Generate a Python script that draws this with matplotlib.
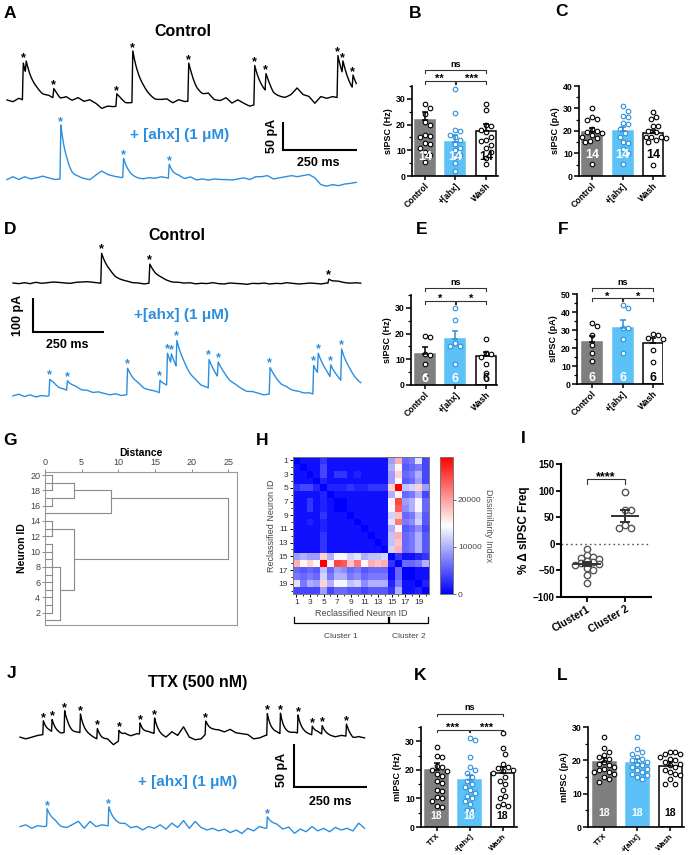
import numpy as np
import matplotlib
matplotlib.use("Agg")
import matplotlib.pyplot as plt
import matplotlib.transforms as mtransforms
from matplotlib.ticker import MultipleLocator

plt.rcParams['font.family'] = ['Liberation Sans', 'DejaVu Sans']
plt.rcParams['font.weight'] = 'bold'
plt.rcParams['axes.labelweight'] = 'bold'

W, H = 688, 855
GREY = '#7f7f7f'
BLUE_BAR = '#5cc1f7'
BLUE = '#2e8fdc'
TRACE_BLUE = '#2b8fe0'

# ---------------- traces: event times (ms), amplitudes (pA), baseline (pA, every 20 ms)
a_ctl_t = [52, 62, 155, 368, 422, 611, 834, 872, 1115, 1132, 1166]
a_ctl_amp = [66, 23, 17, 22, 92, 68, 70, 31, 75, 24, 24]
a_ctl_base = [0, -3, 3, -1, 0, 2, 0, 3, 0, -6, 1, -3, 3, -3, 0, -6, -15, -11, -12, -10,
              -13, -9, -5, -2, -4, -6, -3, 0, -6, 0, -3, -2, -5, -3, 5, -3, -3, 3, -6, 0,
              -6, -11, -8, -5, -3, -8, -4, -1, 7, 20, 9, 6, -6, 6, 3, 6, 4, 3, 0, -2]
a_ahx_t = [179, 391, 545]
a_ahx_amp = [96, 34, 25]
a_ahx_base = [-1, 4, -1, 4, 0, 2, 5, 2, -1, 0, 3, -2, 0, -1, -2, 7, 14, 8, 5, 3,
              2, 0, -1, -1, 2, 1, 4, 2, 0, 2, -1, 3, -2, 0, -2, 0, -1, -1, -2, 0,
              2, -1, 4, 4, 6, 0, 2, 4, 6, 4, 6, 8, 2, -10, -13, -10, -12, -9, -8, -6]

d_ctl_t = [308, 477, 1105]
d_ctl_amp = [88, 56, 12]
d_ctl_base = [0, -2, 1, -2, 2, -1, 1, 3, 2, 0, -1, 2, 3, 4, 2, 0, -1, 1, -3, -2,
              -1, -3, -2, -4, -1, -3, 0, -2, -3, -1, -2, 0, -3, -1, -2, 1, -2, -3, 0, -1,
              -2, -4, -1, -2, 0, -3, -1, -2, 1, -1, -3, -2, 0, -1, -3, 0, -2, 1, -1, -2,
              0, -1]
d_ahx_t = [126, 188, 399, 513, 539, 553, 572, 685, 717, 899, 1052, 1068, 1112, 1150]
d_ahx_amp = [47, 29, 78, 37, 95, 30, 80, 85, 45, 78, 85, 60, 38, 95]
d_ahx_base = [-3, 2, -5, 0, -6, -2, -4, 1, -3, 0, -2, 2, -1, 3, 0, 4, 1, -2, 2, -3,
              0, -4, -1, -5, -2, 0, -3, 1, -2, -4, 0, -2, 2, -1, 3, 0, -2, 1, -1, 2,
              0, -3, 1, -1, -4, 0, -2, -5, -1, -3, 0, -2, 1, -3, -1, 2, -2, 0, -3, 1,
              -1, 0]

j_ctl_t = [78, 108, 151, 205, 263, 337, 409, 459, 634, 845, 890, 950, 999, 1033, 1116]
j_ctl_amp = [16, 14, 25, 22, 12, 12, 13, 18, 15, 25, 24, 21, 10, 10, 14]
j_ctl_base = [1, -1, 1, 3, 4, 6, 5, 4, 7, 5, 6, 4, 2, -1, -3, -2, -8, -3, 3, 2,
              5, 4, 6, 5, 2, 0, 7, 3, 13, 1, -2, -1, 6, 8, 9, 7, 10, 6, 5, 4,
              -1, 0, 3, 4, 5, 3, 4, 6, 5, 4, 3, 5, 3, 2, 1, 3, 2, -2, 1, 0]
j_ahx_t = [91, 302, 845]
j_ahx_amp = [20, 22, 13]
j_ahx_base = [2, 4, 0, 3, 2, 3, 4, 0, 0, 4, 8, 0, 8, 2, 4, 3, 2, 2, 4, 0,
              2, -2, 2, 0, 4, -1, 6, 1, 9, 0, 8, 1, -2, 0, -3, -1, -5, -2, -6, 0,
              -3, 2, 0, 1, 2, -2, 1, -6, -1, -4, 2, -3, 0, -4, 1, -2, 0, -3, 6, 0]

# ---------------- bar charts
b_ctl = [28, 26.5, 24, 21, 20, 16, 15.5, 15, 13, 12.5, 11, 9.5, 8, 5.5]
b_ahx = [34, 24.5, 18, 17.5, 16, 15, 14, 12.5, 11, 10, 8, 7.5, 5, 2]
b_wash = [28, 25.5, 20, 19.5, 18, 17, 15, 14, 13.5, 12, 11, 9.5, 7, 4.5]
b_mean = [21.6, 13.4, 17.4]
b_sem = [3.1, 2.6, 2.9]

c_ctl = [30, 26, 25.5, 25, 21, 20, 19.5, 19, 18, 17.5, 17, 15.5, 15, 5.5]
c_ahx = [31, 29, 26.5, 26, 23.5, 23, 21, 19, 17.5, 15, 14.5, 12, 10, 5.5]
c_wash = [28.5, 26, 25.5, 22, 22, 20, 19.5, 17.5, 17.5, 17.5, 17, 16, 15, 5]
c_mean = [19.7, 20.1, 18.9]
c_sem = [1.6, 1.8, 1.4]

e_ctl = [18.5, 19, 12, 11.5, 8, 4]
e_ahx = [30, 25.3, 16.5, 15, 15, 8]
e_wash = [18, 12.5, 12, 11, 8, 4.5]
e_mean = [12.1, 17.8, 11.2]
e_sem = [2.7, 3.3, 1.8]

f_ctl = [34, 32, 27.5, 21.5, 17.5, 12.8]
f_ahx = [44, 42, 31, 31, 25, 17]
f_wash = [28, 27, 25.5, 25, 19, 12.5]
f_mean = [23.1, 31, 22.6]
f_sem = [3.5, 4.4, 2.8]

k_ttx = [28, 25, 24.5, 21.5, 21, 20, 19.5, 18.5, 18, 16, 15.5, 13, 12.5, 10.5, 10, 9, 7.5, 7]
k_ahx = [31, 30.5, 24.5, 21, 20, 19, 17.5, 16, 15, 14, 13, 12, 11, 10, 9, 8, 6, 6]
k_wash = [33, 27.5, 25.5, 22, 21, 20.5, 20, 19.5, 19, 17.5, 16, 15, 13, 11, 10, 8, 7.5, 7.5]
k_mean = [19.8, 16.4, 18.9]
k_sem = [2.6, 1.7, 2.0]

l_ttx = [27, 23.7, 22.5, 21.5, 21, 20.5, 19.5, 19, 18.5, 18, 17.5, 17, 16.5, 16.5, 16, 15, 14.5, 13.5]
l_ahx = [27, 23.5, 22.5, 22, 21, 20.5, 20, 19.5, 19, 18.5, 18, 17.5, 17, 16.5, 16, 15.5, 15, 14.5]
l_wash = [22.5, 22.5, 22, 22, 21, 20.5, 20, 19.5, 19, 18.5, 18, 17, 16.5, 16, 15.5, 14.5, 13, 13]
l_mean = [19.5, 19.2, 18.4]
l_sem = [1.2, 1.2, 1.2]

freq_labels = ['Control', '+[ahx]', 'Wash']
mini_labels = ['TTX', '+[ahx]', 'Wash']

# ---------------- panel I
i_c1 = [-10, -21, -24, -26, -28, -33, -35, -37, -38, -40, -46, -50, -58, -73]
i_c2 = [98, 63, 63, 35, 29.5, 29.5]
i_mean = [-37.5, 52.8]
i_sem = [3.8, 11.6]
i_labels = ['Cluster1', 'Cluster 2']

# ---------------- panel G dendrogram: (child neuron positions, child heights, merge distance)
dend_merges = [
    ([20, 19, 18], [0, 0, 0], 1),
    ([17, 16], [0, 0], 1),
    ([19, 17], [1, 1], 4),
    ([18, 15], [4, 0], 9),
    ([14, 13, 12], [0, 0, 0], 1),
    ([11, 10, 9, 8, 7, 6, 5, 4, 3, 2], [0, 0, 0, 0, 0, 0, 0, 0, 0, 0], 1),
    ([8, 1], [1, 0], 2),
    ([13, 5], [1, 2], 4),
    ([17, 9], [9, 4], 25),
]

# ---------------- panel H dissimilarity (x1000)
h_within1 = [
    [0, 1, 1, 1, 3, 1, 1, 1, 1, 1, 1, 1, 1, 1],
    [1, 0, 1, 1, 4, 1, 1, 1, 1, 1, 1, 1, 1, 1],
    [1, 1, 0, 1, 4, 1, 3, 3, 1, 2, 1, 1, 1, 1],
    [1, 1, 1, 0, 2, 1, 1, 1, 1, 1, 1, 1, 1, 1],
    [3, 4, 4, 2, 0, 2, 2, 2, 3, 2, 2, 3, 3, 3],
    [1, 1, 1, 1, 2, 0, 1, 1, 1, 1, 1, 1, 1, 1],
    [1, 1, 3, 1, 2, 1, 0, 0, 1, 1, 1, 1, 1, 1],
    [1, 1, 3, 1, 2, 1, 0, 0, 1, 1, 1, 1, 1, 1],
    [1, 1, 1, 1, 3, 1, 1, 1, 0, 1, 1, 1, 1, 1],
    [1, 1, 2, 1, 2, 1, 1, 1, 1, 0, 1, 1, 1, 1],
    [1, 1, 1, 1, 2, 1, 1, 1, 1, 1, 0, 1, 1, 1],
    [1, 1, 1, 1, 3, 1, 1, 1, 1, 1, 1, 0, 1, 1],
    [1, 1, 1, 1, 3, 1, 1, 1, 1, 1, 1, 1, 0, 1],
    [1, 1, 1, 1, 3, 1, 1, 1, 1, 1, 1, 1, 1, 0],
]
h_between = [
    [9, 10, 9, 9, 17, 10, 14, 14, 12, 13, 10, 11, 11, 12],
    [19, 15, 17, 15, 29, 15, 25, 24, 18, 22, 15, 19, 18, 19],
    [6, 5, 6, 5, 11, 6, 9, 8, 6, 7, 5, 6, 6, 6],
    [7, 6, 7, 6, 12, 7, 10, 10, 7, 8, 6, 7, 7, 7],
    [13, 7, 10, 9, 17, 10, 14, 14, 11, 12, 8, 10, 10, 10],
    [4, 4, 4, 4, 9, 4, 6, 6, 5, 5, 4, 5, 5, 5],
]
h_within2 = [
    [0, 3, 1, 1, 2, 3],
    [3, 0, 6, 6, 7, 10],
    [1, 6, 0, 0, 1, 1],
    [1, 6, 0, 0, 1, 1],
    [2, 7, 1, 1, 0, 2],
    [3, 10, 1, 1, 2, 0],
]

fig = plt.figure(figsize=(W / 100, H / 100), dpi=100)


def px_axes(x0, y0, x1, y1):
    return fig.add_axes([x0 / W, 1 - y1 / H, (x1 - x0) / W, (y1 - y0) / H])


def ftext(x, y, s, **kw):
    fig.text(x / W, 1 - y / H, s, **kw)


def build_trace(t_ev, amp, base, tau, rise, step=20):
    tb = np.arange(len(base)) * step
    t = np.arange(0, tb[-1] + 0.5, 1.0)
    y = np.interp(t, tb, base).astype(float)
    for te, a in zip(t_ev, amp):
        m = t >= te
        dt = t[m] - te
        y[m] += a * np.clip(dt / rise, 0, 1) * np.exp(-np.clip(dt - rise, 0, None) / tau)
    return t, y


def trace_ax(box, ox, oy, kx, ky):
    x0, y0, x1, y1 = box
    ax = px_axes(x0, y0, x1, y1)
    ax.set_xlim((x0 - ox) / kx, (x1 - ox) / kx)
    ax.set_ylim((oy - y1) / ky, (oy - y0) / ky)
    ax.axis('off')
    return ax


def draw_trace(ax, t_ev, amp, base, tau, offset, color, ky, star_dy=0.0, rise=3):
    t, y = build_trace(t_ev, amp, base, tau, rise)
    y = y + offset
    ax.plot(t, y, color=color, lw=1.0)
    prev = -1e9
    for te in t_ev:
        if te - prev > 12:
            pk = y[(t >= te) & (t <= te + 14)].max()
            ax.text(te + 2, pk + star_dy / ky, '*', color=color, ha='center', va='baseline', fontsize=9)
        prev = te


def scale_bar(ax, t0, p0, dt, dp):
    ax.plot([t0, t0, t0 + dt], [p0 + dp, p0, p0], color='black', lw=1.5,
            solid_joinstyle='miter', solid_capstyle='butt')


def swarm_x(ax, xc, vals, dx, dy):
    vals = np.asarray(vals, float)
    pts = ax.transData.transform(np.column_stack([np.full(len(vals), float(xc)), vals]))
    x0 = pts[0, 0]
    ys = pts[:, 1]
    placed = []
    xs = np.empty(len(vals))
    for i in np.argsort(-ys):
        for k in [0, 1, -1, 2, -2, 3, -3, 4, -4, 5, -5, 6, -6]:
            cx = x0 + k * dx * 0.5
            if all(((cx - px) / dx) ** 2 + ((ys[i] - py) / dy) ** 2 >= 1 for px, py in placed):
                break
        placed.append((cx, ys[i]))
        xs[i] = cx
    return ax.transData.inverted().transform(np.column_stack([xs, ys]))[:, 0]


def bracket(ax, x1, x2, y, leg, txt, fs, dy):
    ax.plot([x1, x1, x2, x2], [y - leg, y, y, y - leg], color='#333', lw=0.8, clip_on=False)
    ax.annotate(txt, xy=((x1 + x2) / 2, y), xytext=(0, dy), textcoords='offset points',
                ha='center', va='baseline', fontsize=fs, annotation_clip=False)


def bar_panel(box, c0, sp, bw, groups, means, sems, ymax, ystep, ylabel, xlabels, n_y, n_fs, xfs=6.2):
    x_axis, y_top, x_right, y_zero = box
    ax = px_axes(x_axis, y_top, x_right, y_zero)
    ax.set_xlim((x_axis - c0) / sp, (x_right - c0) / sp)
    ax.set_ylim(0, ymax)
    faces = [GREY, BLUE_BAR, 'white']
    edges = [GREY, BLUE_BAR, 'black']
    pe = ['black', BLUE, 'black']
    nc = ['white', 'white', 'black']
    for i in range(3):
        ax.bar(i, means[i], width=bw / sp, color=faces[i], edgecolor=edges[i], lw=1.1, zorder=2)
        xs = swarm_x(ax, i, groups[i], 5.0, 6.0)
        ax.plot(xs, groups[i], 'o', ms=3.3, mfc='white', mec=pe[i], mew=0.8, zorder=3, clip_on=False)
        ax.errorbar(i, means[i], yerr=[[0], [sems[i]]], fmt='none', ecolor=pe[i], elinewidth=1.1,
                    capsize=2.5, capthick=1.1, zorder=4)
        ax.text(i, n_y, str(len(groups[i])), color=nc[i], ha='center', va='center', fontsize=n_fs, zorder=5)
    for s in ['top', 'right']:
        ax.spines[s].set_visible(False)
    for s in ['left', 'bottom']:
        ax.spines[s].set_linewidth(1.2)
    ax.yaxis.set_major_locator(MultipleLocator(ystep))
    ax.yaxis.set_minor_locator(MultipleLocator(ystep / 2))
    ax.tick_params(axis='y', which='major', length=3.5, width=1.1, labelsize=6.3, pad=1)
    ax.tick_params(axis='y', which='minor', length=2, width=0.9)
    ax.set_xticks([0, 1, 2], xlabels, rotation=45, ha='right', rotation_mode='anchor', fontsize=xfs)
    ax.tick_params(axis='x', length=3, width=1.1, pad=1)
    ax.set_ylabel(ylabel, fontsize=6.5, labelpad=2)
    return ax


# ---------------- A
axa = trace_ax((0, 28, 380, 200), 7, 100, 0.296, 0.56)
draw_trace(axa, a_ctl_t, a_ctl_amp, a_ctl_base, 30, 0, 'black', 0.56)
draw_trace(axa, a_ahx_t, a_ahx_amp, a_ahx_base, 20, -141, TRACE_BLUE, 0.56)
scale_bar(axa, 932, -89.3, 250, 50)
ftext(183, 32, 'Control', fontsize=11.5, ha='center', va='center')
ftext(180, 135, '+ [ahx] (1 μM)', fontsize=11, ha='center', va='center', color=TRACE_BLUE)
ftext(272, 136, '50 pA', fontsize=9, ha='center', va='center', rotation=90)
ftext(318, 163, '250 ms', fontsize=9, ha='center', va='center')

# ---------------- D
axd = trace_ax((0, 215, 380, 405), 13, 283, 0.285, 0.34)
draw_trace(axd, d_ctl_t, d_ctl_amp, d_ctl_base, 35, 0, 'black', 0.34, 1.0)
draw_trace(axd, d_ahx_t, d_ahx_amp, d_ahx_base, 50, -329, TRACE_BLUE, 0.34, 1.0)
scale_bar(axd, 70.2, -144, 250, 100)
ftext(177, 235, 'Control', fontsize=11.5, ha='center', va='center')
ftext(181, 315, '+[ahx] (1 μM)', fontsize=11, ha='center', va='center', color=TRACE_BLUE)
ftext(18, 315, '100 pA', fontsize=9, ha='center', va='center', rotation=90)
ftext(67, 345, '250 ms', fontsize=9, ha='center', va='center')

# ---------------- J
axj = trace_ax((0, 690, 380, 850), 20, 738, 0.292, 0.86)
draw_trace(axj, j_ctl_t, j_ctl_amp, j_ctl_base, 14, 0, 'black', 0.86, 0.0, 2)
draw_trace(axj, j_ahx_t, j_ahx_amp, j_ahx_base, 22, -105, TRACE_BLUE, 0.86, 0.0, 2)
scale_bar(axj, 938, -57, 250, 50)
ftext(198, 683, 'TTX (500 nM)', fontsize=11.5, ha='center', va='center')
ftext(188, 782, '+ [ahx] (1 μM)', fontsize=11, ha='center', va='center', color=TRACE_BLUE)
ftext(282, 770, '50 pA', fontsize=9, ha='center', va='center', rotation=90)
ftext(330, 802, '250 ms', fontsize=9, ha='center', va='center')

# ---------------- B, C, E, F, K, L
axb = bar_panel((412, 86, 498, 176), 425, 30.5, 20, [b_ctl, b_ahx, b_wash], b_mean, b_sem,
                35, 10, 'sIPSC (Hz)', freq_labels, 7.5, 9)
bracket(axb, 0, 2, 41.2, 1.2, 'ns', 6.5, 2.5)
bracket(axb, 0, 0.97, 37, 1.2, '**', 8, -1)
bracket(axb, 1.03, 2, 37, 1.2, '***', 8, -1)
axc = bar_panel((579, 86, 665, 176), 592, 30.5, 20, [c_ctl, c_ahx, c_wash], c_mean, c_sem,
                40, 10, 'sIPSC (pA)', freq_labels, 9.3, 9)
axe = bar_panel((411, 295, 497, 385), 425, 30.5, 20, [e_ctl, e_ahx, e_wash], e_mean, e_sem,
                35, 10, 'sIPSC (Hz)', freq_labels, 2.3, 9)
bracket(axe, 0, 2, 37.7, 1.2, 'ns', 6.5, 2.5)
bracket(axe, 0, 0.97, 32.8, 1.2, '*', 8, -1)
bracket(axe, 1.03, 2, 32.8, 1.2, '*', 8, -1)
axf = bar_panel((577, 294, 663, 384), 592, 30.5, 20, [f_ctl, f_ahx, f_wash], f_mean, f_sem,
                50, 10, 'sIPSC (pA)', freq_labels, 3.2, 9)
bracket(axf, 0, 2, 53.3, 1.7, 'ns', 6.5, 2.5)
bracket(axf, 0, 0.97, 47.8, 1.7, '*', 8, -1)
bracket(axf, 1.03, 2, 47.8, 1.7, '*', 8, -1)
axk = bar_panel((421, 727, 517, 827), 436.5, 33, 23, [k_ttx, k_ahx, k_wash], k_mean, k_sem,
                35, 10, 'mIPSC (Hz)', mini_labels, 3.8, 7.5, 5.6)
bracket(axk, 0, 2, 39.7, 1.0, 'ns', 6.5, 2.5)
bracket(axk, 0, 0.97, 34.1, 1.0, '***', 8, -1)
bracket(axk, 1.03, 2, 34.1, 1.0, '***', 8, -1)
axl = bar_panel((588, 727, 684, 827), 604, 33, 23, [l_ttx, l_ahx, l_wash], l_mean, l_sem,
                30, 10, 'mIPSC (pA)', mini_labels, 4.2, 7.5, 5.6)

# ---------------- G dendrogram
axg = px_axes(45, 472, 237, 625)
axg.set_xlim(0, 26.2)
axg.set_ylim(0.4, 20.4)
for ys, ds, dm in dend_merges:
    for yv, dv in zip(ys, ds):
        axg.plot([dv, dm], [yv, yv], color='#8c8c8c', lw=0.8)
    axg.plot([dm, dm], [min(ys), max(ys)], color='#8c8c8c', lw=0.8)
axg.xaxis.tick_top()
axg.xaxis.set_label_position('top')
gx = [0, 5, 10, 15, 20, 25]
gy = list(range(2, 21, 2))
axg.set_xticks(gx, [str(v) for v in gx], fontsize=6.5, fontweight='normal', color='#444')
axg.set_yticks(gy, [str(v) for v in gy], fontsize=6.5, fontweight='normal', color='#444')
axg.tick_params(length=2.5, width=0.7, color='#888', pad=1)
for s in axg.spines.values():
    s.set_color('#999')
    s.set_linewidth(0.8)
axg.set_xlabel('Distance', fontsize=7.5, labelpad=1.5)
axg.set_ylabel('Neuron ID', fontsize=7.5, labelpad=2)

# ---------------- H heatmap
w1 = np.array(h_within1)
bt = np.array(h_between)
w2 = np.array(h_within2)
dissim = np.block([[w1, bt.T], [bt, w2]]) * 1000
axh = px_axes(293, 457, 429, 594)
im = axh.imshow(dissim, cmap='bwr', vmin=0, vmax=29000, aspect='auto', interpolation='nearest',
                extent=(0.5, 20.5, 20.5, 0.5))
odd = list(range(1, 20, 2))
axh.set_xticks(odd, [str(v) for v in odd], fontsize=6, fontweight='normal', color='#333')
axh.set_yticks(odd, [str(v) for v in odd], fontsize=6, fontweight='normal', color='#333')
axh.set_xticks(range(2, 21, 2), minor=True)
axh.set_yticks(range(2, 21, 2), minor=True)
axh.tick_params(which='major', length=2.5, width=0.7, pad=1)
axh.tick_params(which='minor', length=1.5, width=0.6)
for s in axh.spines.values():
    s.set_color('#777')
    s.set_linewidth(0.7)
axh.set_xlabel('Reclassified Neuron ID', fontsize=6.5, fontweight='normal', color='#444', labelpad=2)
axh.set_ylabel('Reclassified Neuron ID', fontsize=6.5, fontweight='normal', color='#444', labelpad=2)
trans = mtransforms.blended_transform_factory(axh.transData, axh.transAxes)
for lo, hi, name in [(0.6, 14.4, 'Cluster 1'), (14.6, 20.4, 'Cluster 2')]:
    axh.plot([lo, lo, hi, hi], [-0.17, -0.215, -0.215, -0.17], transform=trans, clip_on=False,
             color='black', lw=0.9)
    axh.text((lo + hi) / 2, -0.31, name, transform=trans, ha='center', va='center',
             fontsize=6, fontweight='normal', color='#444')
cax = px_axes(440, 457, 453, 594)
cb = fig.colorbar(im, cax=cax)
cb.ax.set_yticks([0, 10000, 20000], ['0', '10000', '20000'], fontsize=6, fontweight='normal', color='#444')
cb.ax.tick_params(length=2, width=0.7, color='#666', pad=1.5)
cb.outline.set_edgecolor('#777')
cb.outline.set_linewidth(0.7)
cb.set_label('Dissimilarity Index', rotation=270, fontsize=6.5, fontweight='normal', color='#555', labelpad=8)

# ---------------- I
axi = px_axes(561, 464, 651, 597)
axi.set_xlim(-0.68, 1.68)
axi.set_ylim(-100, 150)
axi.axhline(0, color='#555', lw=1.0, ls=(0, (1.2, 2.2)), zorder=1)
for i, (vals, m, s) in enumerate(zip([i_c1, i_c2], i_mean, i_sem)):
    xs = swarm_x(axi, i, vals, 6.0, 5.0)
    axi.plot(xs, vals, 'o', ms=4.6, mfc='white', mec='#555', mew=1.0, zorder=3)
    axi.plot([i - 0.35, i + 0.35], [m, m], color='#333', lw=1.4, zorder=4)
    axi.errorbar(i, m, yerr=s, fmt='none', ecolor='#333', elinewidth=1.4, capsize=3.5, capthick=1.4, zorder=4)
for s in ['top', 'right']:
    axi.spines[s].set_visible(False)
for s in ['left', 'bottom']:
    axi.spines[s].set_linewidth(1.5)
axi.set_yticks([-100, -50, 0, 50, 100, 150])
axi.tick_params(axis='y', length=3.5, width=1.3, labelsize=7, pad=1)
axi.set_xticks([0, 1], i_labels, rotation=30, ha='right', rotation_mode='anchor', fontsize=7.5)
axi.tick_params(axis='x', length=3.5, width=1.3, pad=1.5)
axi.set_ylabel('% Δ sIPSC Freq', fontsize=8.5, labelpad=2)
bracket(axi, 0, 1, 122, 9, '****', 9, -1)

# ---------------- panel letters
for x, y, s in [(10, 13, 'A'), (415, 13, 'B'), (561, 12, 'C'), (10, 230, 'D'), (422, 230, 'E'),
                (563, 230, 'F'), (10, 440, 'G'), (262, 440, 'H'), (523, 438, 'I'), (12, 673, 'J'),
                (420, 675, 'K'), (562, 675, 'L')]:
    ftext(x, y, s, fontsize=12.5, ha='center', va='center')

fig.savefig('out.png', dpi=100)
